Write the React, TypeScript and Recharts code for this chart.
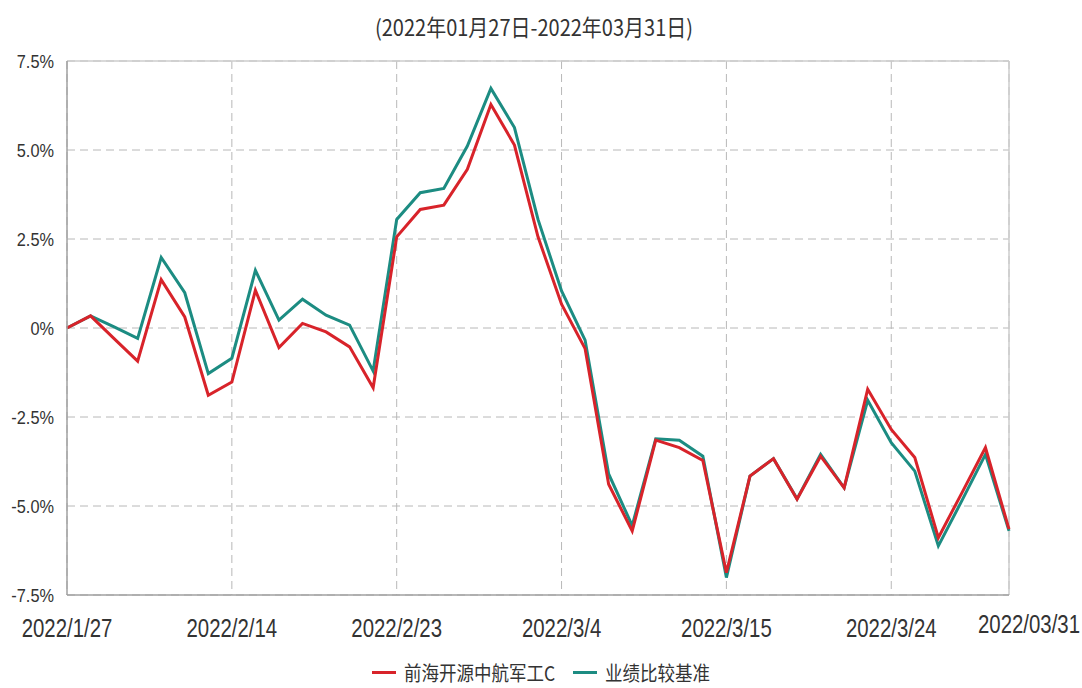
import React from 'react';
import { LineChart, Line, XAxis, YAxis, CartesianGrid, Legend, ReferenceLine } from 'recharts';

const dates = [
  '2022/1/27', '2022/1/28', '2022/2/7', '2022/2/8', '2022/2/9', '2022/2/10', '2022/2/11', '2022/2/14',
  '2022/2/15', '2022/2/16', '2022/2/17', '2022/2/18', '2022/2/21', '2022/2/22', '2022/2/23', '2022/2/24',
  '2022/2/25', '2022/2/28', '2022/3/1', '2022/3/2', '2022/3/3', '2022/3/4', '2022/3/7', '2022/3/8',
  '2022/3/9', '2022/3/10', '2022/3/11', '2022/3/14', '2022/3/15', '2022/3/16', '2022/3/17', '2022/3/18',
  '2022/3/21', '2022/3/22', '2022/3/23', '2022/3/24', '2022/3/25', '2022/3/28', '2022/3/29', '2022/3/30',
  '2022/3/31',
];

const fundValues = [
  0, 0.34, -0.3, -0.93, 1.36, 0.31, -1.89, -1.52,
  1.06, -0.55, 0.13, -0.11, -0.53, -1.68, 2.56, 3.33,
  3.45, 4.46, 6.28, 5.14, 2.56, 0.67, -0.58, -4.39,
  -5.7, -3.15, -3.36, -3.72, -6.87, -4.16, -3.67, -4.81,
  -3.6, -4.49, -1.72, -2.85, -3.64, -5.89, -4.63, -3.36,
  -5.65,
];

const benchValues = [
  0, 0.34, 0.03, -0.29, 1.98, 0.99, -1.28, -0.85,
  1.62, 0.22, 0.81, 0.36, 0.08, -1.21, 3.05, 3.8,
  3.92, 5.11, 6.73, 5.63, 3.05, 1.04, -0.34, -4.1,
  -5.55, -3.11, -3.15, -3.6, -7.01, -4.16, -3.67, -4.8,
  -3.55, -4.49, -2.03, -3.22, -4.02, -6.12, -4.85, -3.55,
  -5.7,
];

const xTicks = ['2022/1/27', '2022/2/14', '2022/2/23', '2022/3/4', '2022/3/15', '2022/3/24', '2022/3/31'];
const xTickLabels = ['2022/1/27', '2022/2/14', '2022/2/23', '2022/3/4', '2022/3/15', '2022/3/24', '2022/03/31'];
const yTicks = [-7.5, -5, -2.5, 0, 2.5, 5, 7.5];

const seriesNames = ['前海开源中航军工C', '业绩比较基准'];
const seriesColors = ['#d8232a', '#1c8c82'];
const titleText = '(2022年01月27日-2022年03月31日)';

const data = dates.map((d, i) => ({ date: d, fund: fundValues[i], bench: benchValues[i] }));

const baseFont = "'Liberation Sans', 'Noto Sans', sans-serif";
const cjkFont = "'Noto Sans CJK SC', 'Noto Sans', sans-serif";

const XTick = (props: any) => {
  const { x, y, payload } = props;
  const idx = xTicks.indexOf(payload.value);
  const isLast = idx === xTicks.length - 1;
  const tx = isLast ? x + 20 : x;
  const ty = y + (isLast ? 36 : 40);
  return (
    <text
      transform={`translate(${tx},${ty}) scale(0.85,1.05)`}
      x={0}
      y={0}
      textAnchor="middle"
      fill="#333"
      fontSize={24}
      fontFamily={baseFont}
    >
      {idx >= 0 ? xTickLabels[idx] : payload.value}
    </text>
  );
};

const YTick = (props: any) => {
  const { x, y, payload } = props;
  const v = payload.value as number;
  const label = v === 0 ? '0%' : `${v.toFixed(1)}%`;
  return (
    <text
      transform={`translate(${x},${y}) scale(0.86,1)`}
      x={0}
      y={0}
      dy="0.36em"
      textAnchor="end"
      fill="#333"
      fontSize={19}
      fontFamily={baseFont}
    >
      {label}
    </text>
  );
};

const LegendContent = () => (
  <div
    style={{
      display: 'flex',
      justifyContent: 'center',
      alignItems: 'center',
      fontFamily: cjkFont,
      fontSize: 17.5,
      color: '#333',
      height: 26,
    }}
  >
    {seriesNames.map((name, i) => (
      <div key={name} style={{ display: 'flex', alignItems: 'center', marginRight: i === 0 ? 18 : 0 }}>
        <div style={{ width: 24, height: 3, background: seriesColors[i], marginRight: 8 }} />
        <span style={{ display: 'inline-block', transform: 'scaleY(1.15)' }}>{name}</span>
      </div>
    ))}
  </div>
);

export default function App() {
  return (
    <div style={{ position: 'absolute', left: 0, top: 0, width: 1082, height: 688, background: '#fff' }}>
      <div
        style={{
          position: 'absolute',
          left: -7,
          top: 15,
          width: 1082,
          textAlign: 'center',
          fontFamily: cjkFont,
          fontSize: 20,
          lineHeight: '24px',
          color: '#333',
          zIndex: 2,
          transform: 'scaleY(1.12)',
        }}
      >
        {titleText}
      </div>
      <LineChart width={1082} height={688} data={data} margin={{ top: 61, right: 73, bottom: 63, left: 0 }}>
        <CartesianGrid stroke="#b8b8b8" strokeDasharray="8 5" />
        <XAxis
          dataKey="date"
          ticks={xTicks}
          interval={0}
          tick={<XTick />}
          tickLine={false}
          tickSize={0}
          height={30}
          axisLine={{ stroke: '#a0a0a0', strokeWidth: 1.5 }}
        />
        <YAxis
          domain={[-7.5, 7.5]}
          ticks={yTicks}
          interval={0}
          width={67}
          tick={<YTick />}
          tickLine={false}
          tickSize={0}
          tickMargin={13}
          axisLine={{ stroke: '#a0a0a0', strokeWidth: 1.5 }}
        />
        <ReferenceLine y={7.5} stroke="#cccccc" strokeWidth={1.5} />
        <ReferenceLine x="2022/3/31" stroke="#cccccc" strokeWidth={1.5} />
        <Legend
          layout="horizontal"
          verticalAlign="middle"
          align="center"
          content={<LegendContent />}
          wrapperStyle={{ top: 659, left: 0, width: 1082 }}
        />
        <Line
          type="linear"
          dataKey="bench"
          name={seriesNames[1]}
          stroke={seriesColors[1]}
          strokeWidth={3}
          dot={false}
          activeDot={false}
          isAnimationActive={false}
        />
        <Line
          type="linear"
          dataKey="fund"
          name={seriesNames[0]}
          stroke={seriesColors[0]}
          strokeWidth={3}
          dot={false}
          activeDot={false}
          isAnimationActive={false}
        />
      </LineChart>
    </div>
  );
}
